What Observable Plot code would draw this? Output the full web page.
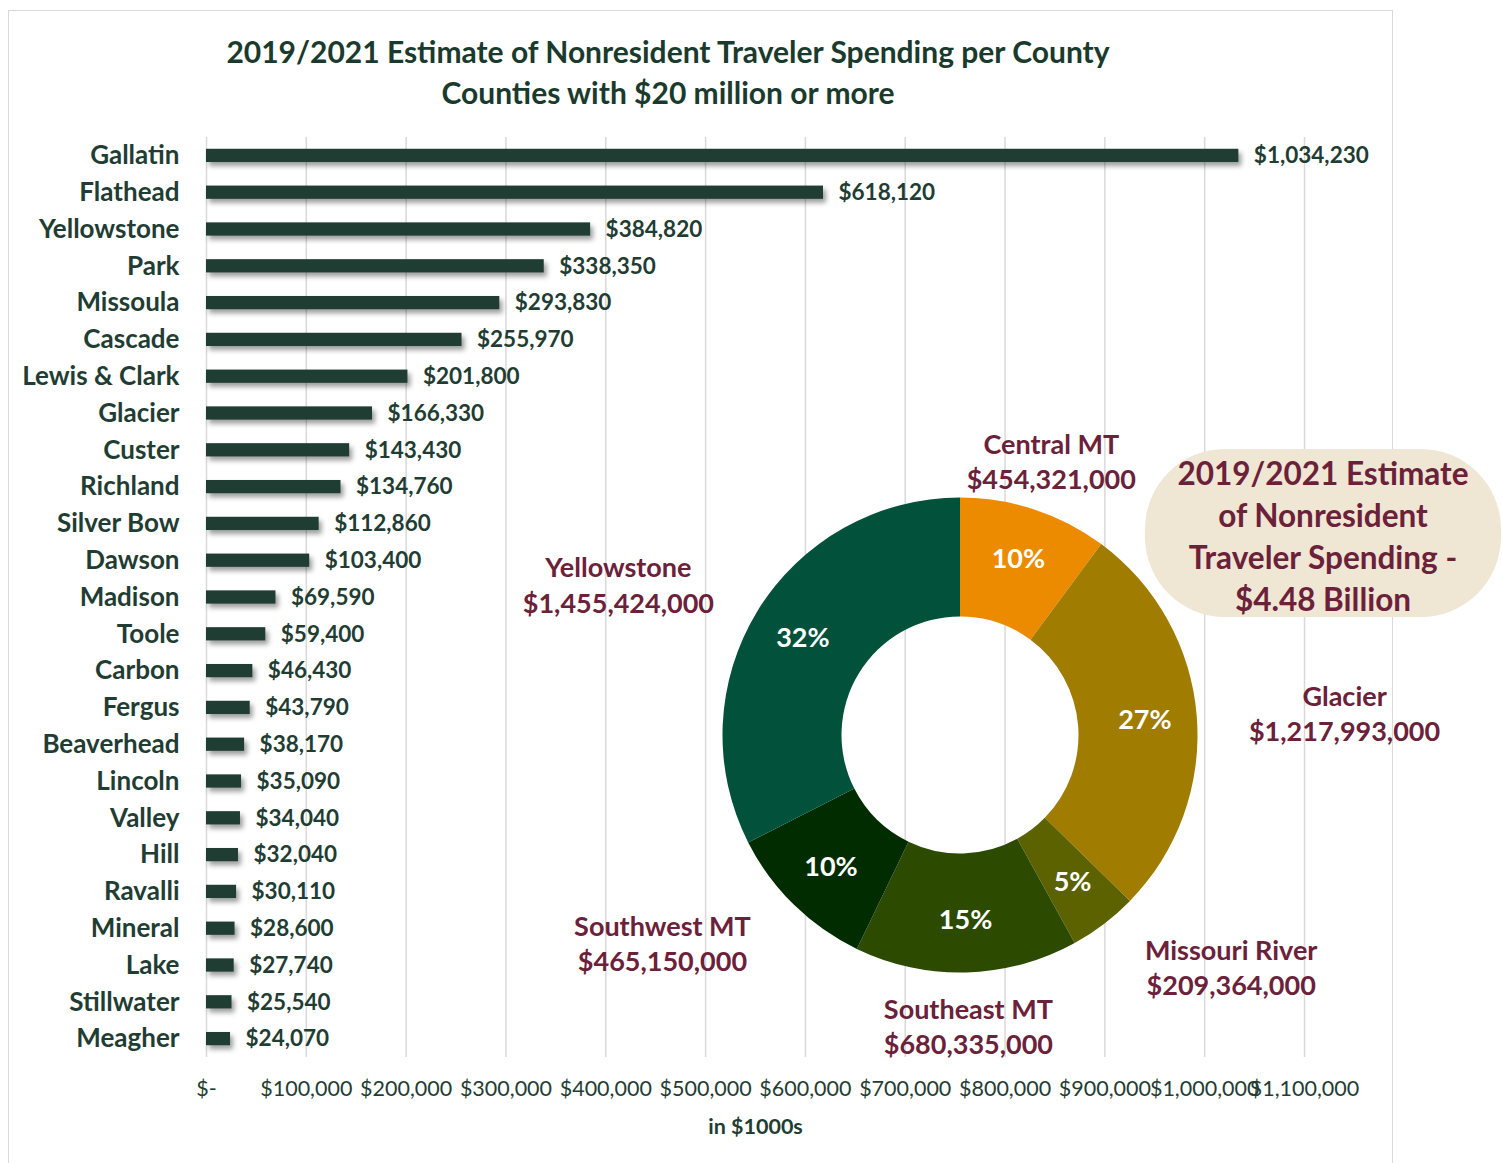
<!DOCTYPE html>
<html>
<head>
<meta charset="utf-8">
<script src="https://cdn.jsdelivr.net/npm/d3@7"></script>
<script src="https://cdn.jsdelivr.net/npm/@observablehq/plot@0.6"></script>
<style>
  html, body { margin: 0; padding: 0; background: #fff; }
  #root { position: relative; width: 1502px; height: 1163px; overflow: hidden; font-family: Lato, "Open Sans", sans-serif; }
  #frame { position: absolute; left: 8px; top: 10px; width: 1385px; height: 1170px; border: 1.5px solid #d9d9d9; box-sizing: border-box; }
  #title { position: absolute; left: 0; width: 1336px; top: 31px; text-align: center; color: #1a3a2d; font-weight: 700; font-size: 30px; line-height: 41px; }
  #bars, #donut { position: absolute; left: 0; top: 0; }
  #box { position: absolute; left: 1145px; top: 449px; width: 356px; height: 168px; border-radius: 80px; background: #efe6d3; color: #6b2139; font-weight: 700; font-size: 31.5px; line-height: 42px; text-align: center; display: flex; align-items: center; justify-content: center; }
  #box > div { position: relative; top: 3px; }
</style>
</head>
<body>
<div id="root">
  <div id="frame"></div>
  <div id="title">2019/2021 Estimate of Nonresident Traveler Spending per County<br>Counties with $20 million or more</div>
  <div id="bars"></div>
  <div id="donut"></div>
  <div id="box"></div>
</div>
<script>
// ---- data: counties (in $1000s) ----
const counties = ["Gallatin","Flathead","Yellowstone","Park","Missoula","Cascade","Lewis & Clark","Glacier","Custer","Richland","Silver Bow","Dawson","Madison","Toole","Carbon","Fergus","Beaverhead","Lincoln","Valley","Hill","Ravalli","Mineral","Lake","Stillwater","Meagher"];
const spending = [1034230,618120,384820,338350,293830,255970,201800,166330,143430,134760,112860,103400,69590,59400,46430,43790,38170,35090,34040,32040,30110,28600,27740,25540,24070];
const xTicks = [0,100000,200000,300000,400000,500000,600000,700000,800000,900000,1000000,1100000];

// ---- data: regions (dollars) ----
const regions = ["Central MT","Glacier","Missouri River","Southeast MT","Southwest MT","Yellowstone"];
const regionSpending = [454321000,1217993000,209364000,680335000,465150000,1455424000];
const regionColors = ["#ec8b00","#a07c00","#5c6200","#2c4a00","#002c00","#02513a"];

const green = "#1f3d33";
const maroon = "#6b2139";
const fmt = d3.format(",");

// ---------- bar chart ----------
const barRows = counties.map((c, i) => ({county: c, value: spending[i]}));
const bars = Plot.plot({
  width: 1502, height: 1163,
  marginLeft: 206, marginRight: 198, marginTop: 137, marginBottom: 106,
  style: {fontFamily: "Lato, 'Open Sans', sans-serif", fontSize: "20px", color: green, background: "transparent"},
  x: {domain: [0, 1100000], axis: null},
  y: {domain: counties, paddingInner: 0.64, paddingOuter: 0.32, round: false, axis: null},
  marks: [
    Plot.gridX(xTicks, {stroke: "#d9d9d9", strokeOpacity: 1, strokeWidth: 1.5}),
    Plot.axisX(xTicks, {tickSize: 0, tickPadding: 23, fontSize: 21.5, fill: green,
      tickFormat: d => d === 0 ? "$-" : "$" + fmt(d), label: null}),
    Plot.axisY({tickSize: 0, tickPadding: 27, fontSize: 26, fontWeight: "bold", fill: green, label: null}),
    Plot.barX(barRows, {x: "value", y: "county", fill: green}),
    Plot.text(barRows, {x: "value", y: "county", text: d => "$" + fmt(d.value), dx: 15, textAnchor: "start",
      fontSize: 22.5, fontWeight: "bold", fill: green}),
    Plot.text(["in $1000s"], {frameAnchor: "bottom", dy: 76, fontSize: 21.5, fontWeight: "bold", fill: green})
  ]
});
d3.select(bars).selectAll('g[aria-label="bar"] rect').style("filter", "drop-shadow(3px 4px 2.5px rgba(0,0,0,0.38))");
document.getElementById("bars").appendChild(bars);

// ---------- donut chart ----------
const total = d3.sum(regionSpending);
const R_OUT = 237.5, R_IN = 118.5, R_PCT = 185, R_LAB = 290;
const pie = d3.pie().sort(null).value(d => d.value)(regions.map((r, i) => ({region: r, value: regionSpending[i], color: regionColors[i]})));
const slices = pie.map(p => {
  const mid = (p.startAngle + p.endAngle) / 2;
  const s = Math.sin(mid), c = Math.cos(mid);
  const push = Math.abs(s) > 0.5 ? Math.sign(s) * 95 : 0;
  return {
    ...p,
    pct: Math.round(p.data.value / total * 100) + "%",
    px: R_PCT * s, py: R_PCT * c,
    lx: R_LAB * s + push, ly: R_LAB * c,
    label: p.data.region + "\n$" + fmt(p.data.value)
  };
});
const arcGen = d3.arc();
function arcMark(index, scales) {
  const cx = scales.x(0), cy = scales.y(0);
  const k = scales.x(1) - scales.x(0);
  const g = d3.create("svg:g").attr("transform", `translate(${cx},${cy})`);
  g.selectAll("path").data(slices).join("path")
    .attr("d", d => arcGen({innerRadius: R_IN * k, outerRadius: R_OUT * k, startAngle: d.startAngle, endAngle: d.endAngle}))
    .attr("fill", d => d.data.color);
  return g.node();
}
// donut svg: 1000x680 placed so that center is at page (960,735)
const DW = 1000, DH = 680, DL = 480, DT = 400;
const donut = Plot.plot({
  width: DW, height: DH, margin: 0,
  style: {fontFamily: "Lato, 'Open Sans', sans-serif", background: "transparent", overflow: "visible"},
  x: {domain: [-(960 - DL), DW - (960 - DL)], range: [0, DW], axis: null},
  y: {domain: [-(DT + DH - 735), 735 - DT], range: [DH, 0], axis: null},
  marks: [
    arcMark,
    Plot.text(slices, {x: "px", y: "py", text: "pct", fill: "white", fontSize: 27, fontWeight: "bold"}),
    Plot.text(slices, {x: "lx", y: "ly", text: "label", fill: maroon, fontSize: 27, fontWeight: "bold", lineHeight: 1.3})
  ]
});
const dd = document.getElementById("donut");
dd.style.left = DL + "px"; dd.style.top = DT + "px";
dd.appendChild(donut);

document.getElementById("box").innerHTML =
  "<div>2019/2021 Estimate<br>of Nonresident<br>Traveler Spending -<br>$" + (total / 1e9).toFixed(2) + " Billion</div>";
</script>
</body>
</html>
